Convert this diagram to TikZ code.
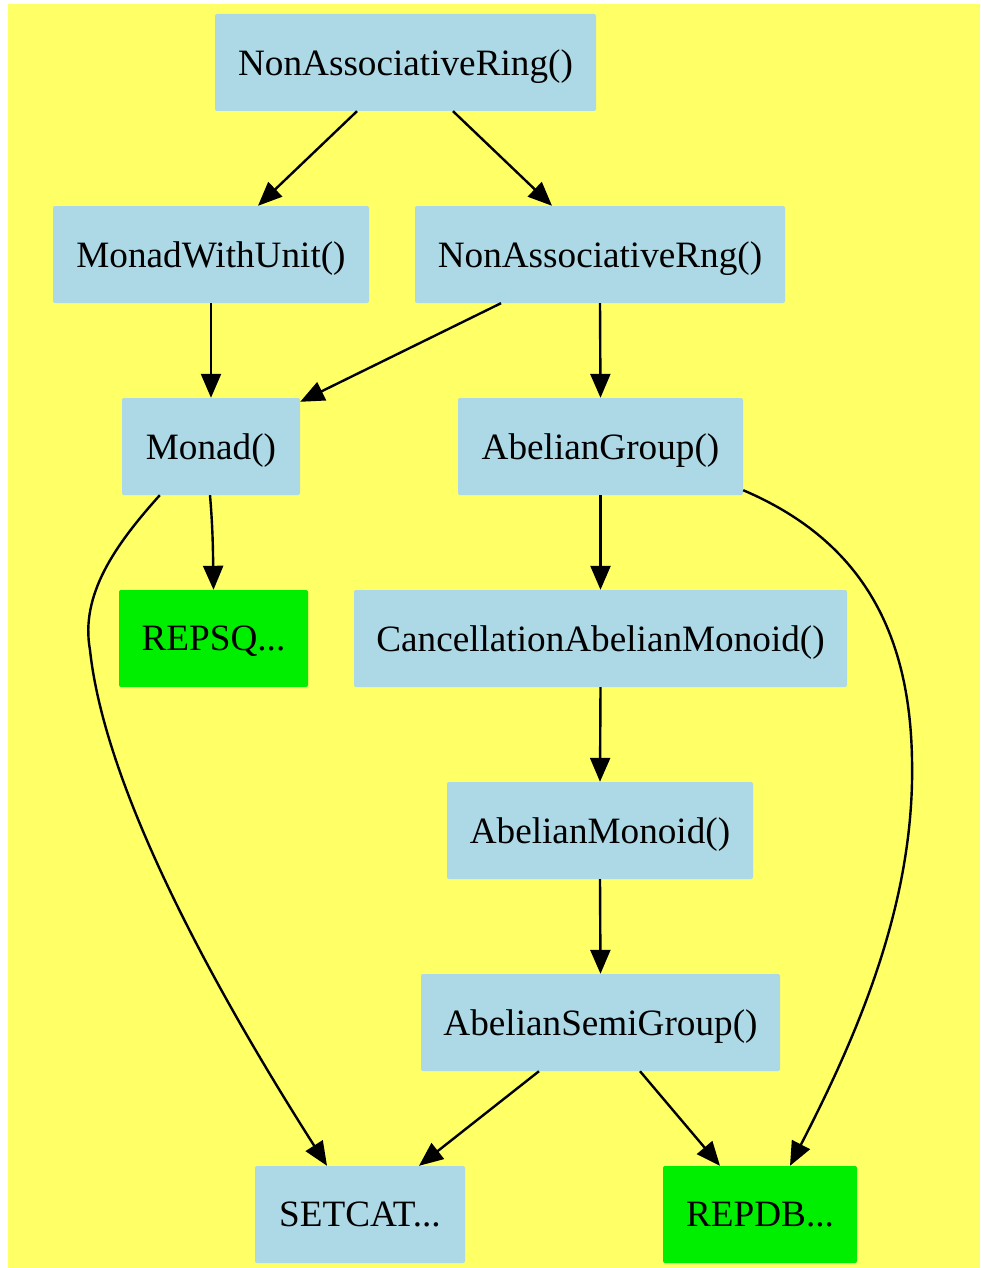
\documentclass[tikz,border=0pt]{standalone}
\usepackage{fontspec}
\setmainfont{Liberation Serif}
\usetikzlibrary{arrows.meta}
\definecolor{bgyellow}{HTML}{FFFF66}
\definecolor{nodeblue}{HTML}{ADD8E6}
\definecolor{nodegreen}{HTML}{00EE00}
\tikzset{
  box/.style={draw=none, fill=nodeblue, rounded corners=2pt, inner sep=0pt, minimum height=97pt, text depth=0pt, font=\fontsize{37.2}{44}\selectfont, text=black},
  greenbox/.style={box, fill=nodegreen},
  edge/.style={draw=black, line width=2.4pt, -{Triangle[length=24pt,width=20pt]}}
}
\begin{document}
\begin{tikzpicture}[x=1pt,y=-1pt]
\useasboundingbox (0,0) rectangle (980,1268);
\fill[white] (0,0) rectangle (980,1268);
\fill[bgyellow] (8,4) rectangle (980,1268);

\node[box, minimum width=381pt] (nar) at (405.5,62.5) {NonAssociativeRing()};
\node[box, minimum width=316pt] (mwu) at (211,254.5) {MonadWithUnit()};
\node[box, minimum width=370pt] (narng) at (600,254.5) {NonAssociativeRng()};
\node[box, minimum width=178pt] (monad) at (211,446.5) {Monad()};
\node[box, minimum width=285pt] (ag) at (600.5,446.5) {AbelianGroup()};
\node[greenbox, minimum width=189pt] (repsq) at (213.5,638.5) {REPSQ...};
\node[box, minimum width=493pt] (cam) at (600.5,638.5) {CancellationAbelianMonoid()};
\node[box, minimum width=306pt] (am) at (600,830.5) {AbelianMonoid()};
\node[box, minimum width=359pt] (asg) at (600.5,1022.5) {AbelianSemiGroup()};
\node[box, minimum width=210pt] (setcat) at (360,1214.5) {SETCAT...};
\node[greenbox, minimum width=194pt] (repdb) at (760,1214.5) {REPDB...};

\draw[edge] ([xshift=-48.5pt]nar.south) -- ([xshift=47pt]mwu.north);
\draw[edge] ([xshift=47.5pt]nar.south) -- ([xshift=-48pt]narng.north);
\draw[edge] (mwu.south) -- (monad.north);
\draw[edge] ([xshift=-99pt]narng.south) -- ([yshift=-4pt]monad.north east);
\draw[edge] (narng.south) -- (ag.north);
\draw[edge] ([xshift=-1pt]monad.south) .. controls ([xshift=2pt,yshift=-35pt]monad.south) and ([xshift=-0.5pt,yshift=35pt]repsq.north) .. (repsq.north);
\draw[edge] ([xshift=38pt]monad.south west) .. controls (115,545) and (80,595) .. (90,650)
  .. controls (105,790) and (215,990) .. ([xshift=-33pt]setcat.north);
\draw[edge] ([yshift=5pt]ag.south east) .. controls (860,540) and (910,630) .. (912,760)
  .. controls (915,900) and (860,1030) .. ([xshift=30pt]repdb.north);
\draw[edge] (ag.south) -- (cam.north);
\draw[edge] (cam.south) -- (am.north);
\draw[edge] (am.south) -- (asg.north);
\draw[edge] ([xshift=-61.5pt]asg.south) -- ([xshift=59pt]setcat.north);
\draw[edge] ([xshift=39.5pt]asg.south) -- ([xshift=-40pt]repdb.north);
\end{tikzpicture}
\end{document}
